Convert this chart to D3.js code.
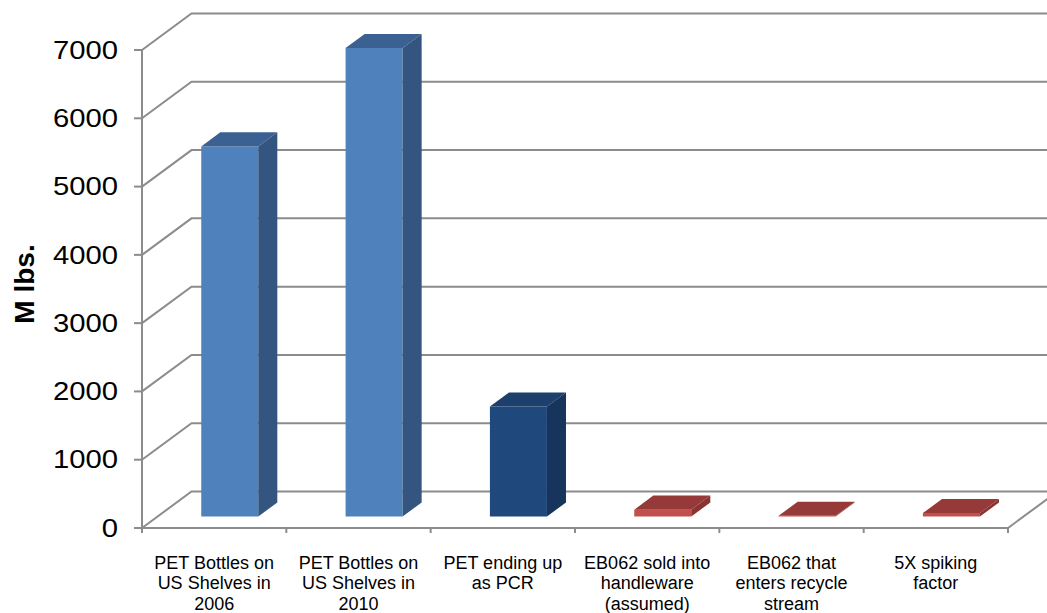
<!DOCTYPE html>
<html>
<head>
<meta charset="utf-8">
<script src="https://cdn.jsdelivr.net/npm/d3@7"></script>
<style>
  body { margin: 0; background: #fff; }
  svg { display: block; }
  text { font-family: "Liberation Sans", Arial, sans-serif; fill: #000; }
</style>
</head>
<body>
<svg id="chart" width="1047" height="613"></svg>
<script>
// Category labels, one entry per line of the wrapped axis label
const categories = [
  ["PET Bottles on", "US Shelves in", "2006"],
  ["PET Bottles on", "US Shelves in", "2010"],
  ["PET ending up", "as PCR"],
  ["EB062 sold into", "handleware", "(assumed)"],
  ["EB062 that", "enters recycle", "stream"],
  ["5X spiking", "factor"]
];
// Quantities in millions of pounds
const values = [5420, 6860, 1610, 100, 10, 50];
// Colour group of each bar
const groups = ["bottles", "bottles", "pcr", "eb062", "eb062", "eb062"];
const yTicks = [0, 1000, 2000, 3000, 4000, 5000, 6000, 7000];
const yTitle = "M lbs.";

const palette = {
  bottles: { front: "#4F81BD", top: "#3B6192", side: "#34557F" },
  pcr:     { front: "#1F497D", top: "#1C3F6C", side: "#17355C" },
  eb062:   { front: "#C0504D", top: "#953A38", side: "#8A3331" }
};

const svg = d3.select("#chart");
const plotL = 142, plotR = 1008, plotB = 528, plotT = 50;
const DX = 49.5, DY = -36.5;          // full depth of the plot box
const fFront = 0.315, fBack = 0.70;   // bar position within the depth

const x = d3.scaleBand()
  .domain(d3.range(categories.length))
  .range([plotL, plotR])
  .paddingInner(0.605)
  .paddingOuter(0.3025);
const y = d3.scaleLinear().domain([0, 7000]).range([plotB, plotT]);

const grid = "#8C8C8C";

// back wall gridlines and left wall diagonals
const g = svg.append("g").attr("stroke", grid).attr("stroke-width", 2).attr("fill", "none");
yTicks.forEach(t => {
  g.append("path").attr("d",
    `M${plotL},${y(t)} L${plotL + DX},${y(t) + DY} L${plotR + DX},${y(t) + DY}`);
});
// floor front edge and right floor edge
g.append("path").attr("d",
  `M${plotL},${plotB} L${plotR},${plotB} L${plotR + DX},${plotB + DY}`);
// left axis
g.append("line").attr("x1", plotL).attr("x2", plotL).attr("y1", y(7000)).attr("y2", plotB);
yTicks.forEach(t => {
  g.append("line").attr("x1", plotL - 8).attr("x2", plotL).attr("y1", y(t)).attr("y2", y(t));
});
// category ticks
const step = x.step();
d3.range(categories.length + 1).forEach(i => {
  const xx = plotL + i * step;
  g.append("line").attr("x1", xx).attr("x2", xx).attr("y1", plotB).attr("y2", plotB + 5);
});

// bars: front, top, side
const bars = svg.append("g");
values.forEach((v, i) => {
  const c = palette[groups[i]];
  const x0 = x(i) + fFront * DX, y0 = fFront * DY;
  const w = x.bandwidth();
  const ddx = (fBack - fFront) * DX, ddy = (fBack - fFront) * DY;
  const yb = plotB + y0, yt = y(v) + y0;
  bars.append("path").attr("fill", c.front)
    .attr("d", `M${x0},${yb} L${x0 + w},${yb} L${x0 + w},${yt} L${x0},${yt} Z`);
  bars.append("path").attr("fill", c.top)
    .attr("d", `M${x0},${yt} L${x0 + w},${yt} L${x0 + w + ddx},${yt + ddy} L${x0 + ddx},${yt + ddy} Z`);
  bars.append("path").attr("fill", c.side)
    .attr("d", `M${x0 + w},${yb} L${x0 + w + ddx},${yb + ddy} L${x0 + w + ddx},${yt + ddy} L${x0 + w},${yt} Z`);
});

// y tick labels (slightly widened digits)
svg.append("g").selectAll("text").data(yTicks).join("text")
  .attr("transform", d => `translate(118,${y(d)}) scale(1.17,1)`)
  .attr("dy", "0.35em")
  .attr("text-anchor", "end")
  .style("font-size", "25px")
  .text(d => d);

// y title
svg.append("text")
  .attr("transform", "translate(34,284) rotate(-90)")
  .attr("text-anchor", "middle")
  .style("font-size", "28px")
  .style("font-weight", "bold")
  .text(yTitle);

// category labels
const lab = svg.append("g").selectAll("text").data(categories).join("text")
  .attr("text-anchor", "middle")
  .style("font-size", "18px");
lab.each(function (lines, i) {
  const cx = plotL + (i + 0.5) * step;
  d3.select(this).selectAll("tspan").data(lines).join("tspan")
    .attr("x", cx).attr("y", (d, j) => 568.5 + j * 20.75)
    .text(d => d);
});
</script>
</body>
</html>
